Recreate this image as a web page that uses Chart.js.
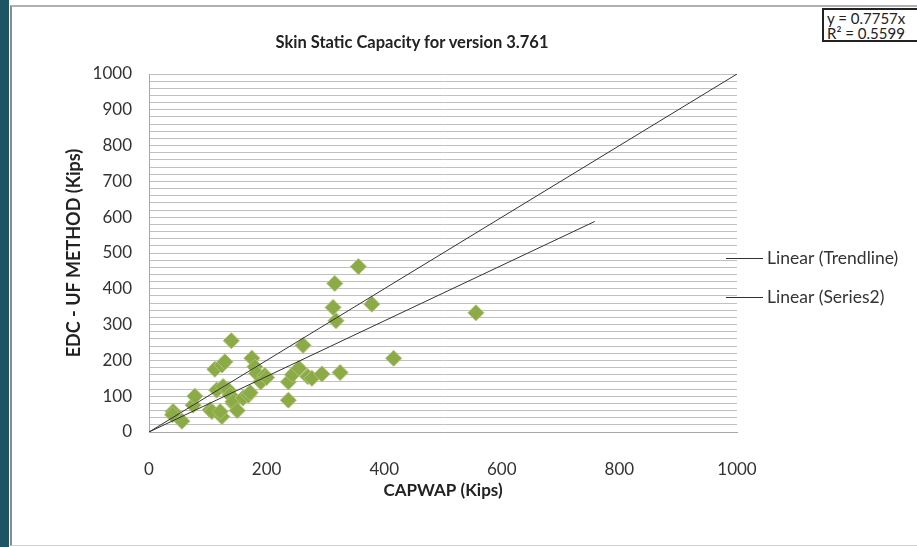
<!DOCTYPE html>
<html>
<head>
    <title>Skin Static Capacity for version 3.761</title>
    <script src="https://cdn.jsdelivr.net/npm/chart.js"></script>
    <style>
        body { margin: 0; width: 917px; height: 547px; overflow: hidden; background: #fff; font-family: Lato, "Open Sans", sans-serif; position: relative; }
        .strip { position: absolute; left: 0; top: 0; width: 9px; height: 547px; background: #1e5565; }
        .frame { position: absolute; left: 10px; top: 5px; width: 910px; height: 538px; border-left: 2px solid #8a8a8a; border-top: 2px solid #b0b0b0; border-bottom: 1px solid #d0d0d0; }
        .wrap { position: absolute; left: 0; top: 0; width: 917px; height: 547px; }
        .title { position: absolute; left: 0; width: 824px; top: 31px; text-align: center; font-weight: bold; font-size: 16.5px; line-height: 22px; color: #222; }
        .eq { position: absolute; left: 822px; top: 8px; width: 120px; height: 34px; border: 2px solid #222; background: #fff; font-size: 15px; line-height: 15px; color: #222; padding: 1px 3px 0 3px; box-sizing: border-box; white-space: nowrap; }
    </style>
</head>
<body>
    <div class="strip"></div>
    <div class="frame"></div>
    <div class="wrap"><canvas id="skinChart"></canvas></div>
    <div class="title">Skin Static Capacity for version 3.761</div>
    <div class="eq">y = 0.7757x<br>R² = 0.5599</div>

    <script>
        // CAPWAP vs EDC - UF method, kips
        const capwap = [41, 40, 56, 75, 78, 104, 107, 112, 124, 129, 115, 126, 135, 124, 121,
                        143, 138, 140, 143, 150, 160, 169, 172, 175, 180, 183, 190, 197, 200,
                        237, 237, 244, 255, 262, 270, 277, 294, 313, 316, 318, 325, 356, 379, 416, 556];
        const edcUf  = [57, 48, 30, 75, 100, 62, 57, 175, 187, 196, 117, 127, 117, 43, 57,
                        80, 103, 255, 85, 60, 95, 103, 110, 206, 182, 164, 140, 158, 152,
                        89, 140, 160, 178, 242, 155, 150, 162, 348, 415, 311, 166, 462, 357, 206, 333];

        // line end points
        const trendX = [0, 1000];
        const trendY = [0, 1000];
        const series2X = [0, 758];
        const series2Y = [0, 588];

        const xTicks = [0, 200, 400, 600, 800, 1000];
        const yTicks = [0, 100, 200, 300, 400, 500, 600, 700, 800, 900, 1000];

        const toPoints = (xs, ys) => xs.map((x, i) => ({ x: x, y: ys[i] }));

        // legend drawn Excel-style, over the right edge of the plot
        const excelLegend = {
            id: 'excelLegend',
            afterDraw(chart) {
                const ctx = chart.ctx;
                const lines = chart.data.datasets.filter(d => d.showLine);
                ctx.save();
                ctx.font = '17.5px Lato, sans-serif';
                ctx.textBaseline = 'middle';
                lines.forEach((ds, i) => {
                    const y = 258 + i * 39;
                    ctx.strokeStyle = ds.borderColor;
                    ctx.lineWidth = 1;
                    ctx.beginPath();
                    ctx.moveTo(726, y + 0.5);
                    ctx.lineTo(763, y + 0.5);
                    ctx.stroke();
                    ctx.fillStyle = '#333';
                    ctx.fillText(ds.label, 767, y);
                });
                ctx.restore();
            }
        };

        const ctx = document.getElementById('skinChart').getContext('2d');
        new Chart(ctx, {
            type: 'scatter',
            data: {
                datasets: [{
                    label: 'Series1',
                    data: toPoints(capwap, edcUf),
                    pointStyle: 'rectRot',
                    pointRadius: 8,
                    backgroundColor: '#8cab47',
                    borderColor: '#a9c271',
                    borderWidth: 1,
                    order: 2
                }, {
                    label: 'Linear (Trendline)',
                    data: toPoints(trendX, trendY),
                    showLine: true,
                    pointRadius: 0,
                    borderColor: '#333',
                    borderWidth: 1,
                    order: 1
                }, {
                    label: 'Linear (Series2)',
                    data: toPoints(series2X, series2Y),
                    showLine: true,
                    pointRadius: 0,
                    borderColor: '#333',
                    borderWidth: 1,
                    order: 1
                }]
            },
            options: {
                responsive: true,
                maintainAspectRatio: false,
                animation: false,
                layout: { padding: { left: 60, top: 74, right: 180, bottom: 42 } },
                plugins: {
                    legend: { display: false },
                    tooltip: { enabled: false }
                },
                scales: {
                    x: {
                        min: 0, max: 1000,
                        afterBuildTicks: s => { s.ticks = xTicks.map(v => ({ value: v })); },
                        afterFit: s => { s.height = 73; },
                        grid: { display: false },
                        border: { display: true, color: '#a8a8a8' },
                        ticks: {
                            padding: 19, color: '#333', font: { family: 'Lato', size: 17 },
                            callback: v => String(v)
                        },
                        title: {
                            display: true, text: 'CAPWAP (Kips)', color: '#222',
                            font: { family: 'Lato', size: 17, weight: 'bold' },
                            padding: { top: 10, bottom: 4 }
                        }
                    },
                    y: {
                        min: 0, max: 1000,
                        afterFit: s => { s.width = 89; },
                        grid: { color: '#c0c0c0', drawTicks: false },
                        border: { display: true, color: '#a8a8a8' },
                        ticks: {
                            stepSize: 20,
                            autoSkip: false,
                            padding: 17,
                            color: '#333',
                            font: { family: 'Lato', size: 17 },
                            callback: v => (yTicks.includes(v) ? String(v) : '')
                        },
                        title: {
                            display: true, text: 'EDC - UF METHOD (Kips)', color: '#222',
                            font: { family: 'Lato', size: 18, weight: 'bold' },
                            padding: { top: 3, bottom: 4 }
                        }
                    }
                }
            },
            plugins: [excelLegend]
        });
    </script>
</body>
</html>
